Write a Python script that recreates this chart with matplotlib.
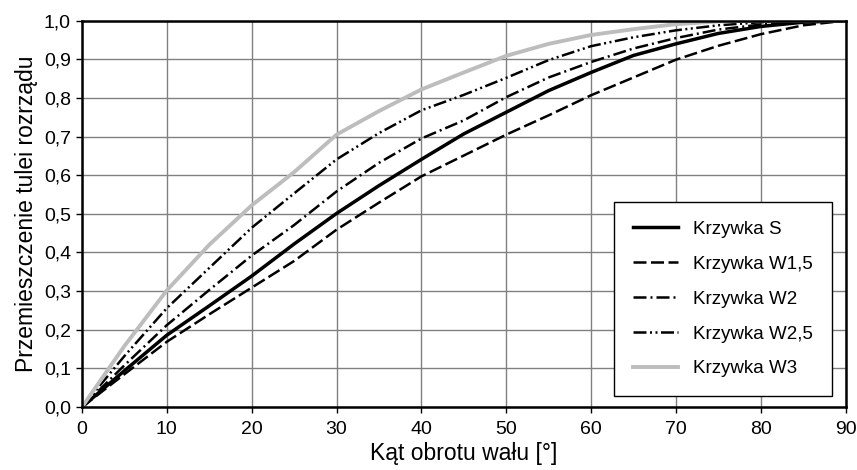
import matplotlib
matplotlib.use('Agg')
import matplotlib.pyplot as plt
from matplotlib.ticker import FuncFormatter

# kat obrotu walu [deg]
kat = [0, 5, 10, 15, 20, 25, 30, 35, 40, 45, 50, 55, 60, 65, 70, 75, 80, 85, 90]

krzywa_s = [0.0, 0.094, 0.186, 0.262, 0.339, 0.422, 0.501, 0.573, 0.641, 0.707, 0.763, 0.819, 0.866, 0.91, 0.94, 0.967, 0.985, 0.996, 1.0]
krzywa_w15 = [0.0, 0.085, 0.169, 0.24, 0.309, 0.378, 0.459, 0.529, 0.597, 0.651, 0.705, 0.755, 0.807, 0.853, 0.899, 0.935, 0.965, 0.988, 1.0]
krzywa_w2 = [0.0, 0.108, 0.212, 0.303, 0.392, 0.471, 0.558, 0.632, 0.695, 0.742, 0.802, 0.853, 0.893, 0.928, 0.955, 0.977, 0.99, 0.998, 1.0]
krzywa_w25 = [0.0, 0.132, 0.256, 0.36, 0.464, 0.553, 0.641, 0.709, 0.768, 0.808, 0.852, 0.898, 0.934, 0.957, 0.975, 0.988, 0.996, 1.0, 1.0]
krzywa_w3 = [0.0, 0.158, 0.302, 0.42, 0.522, 0.608, 0.705, 0.766, 0.822, 0.866, 0.909, 0.94, 0.963, 0.978, 0.991, 0.998, 1.0, 1.0, 1.0]

etykiety = ['Krzywka S', 'Krzywka W1,5', 'Krzywka W2', 'Krzywka W2,5', 'Krzywka W3']

plt.rcParams['font.family'] = ['Liberation Sans', 'DejaVu Sans']

fig = plt.figure(figsize=(8.57, 4.70), dpi=100)
ax = fig.add_axes([0.0957, 0.134, 0.891, 0.822])

ax.plot(kat, krzywa_s, color='black', lw=2.5, label=etykiety[0])
ax.plot(kat, krzywa_w15, color='black', lw=1.8, dashes=(5.2, 1.8), label=etykiety[1])
ax.plot(kat, krzywa_w2, color='black', lw=1.8, dashes=(5.2, 1.6, 0.8, 1.6), label=etykiety[2])
ax.plot(kat, krzywa_w25, color='black', lw=1.8, dashes=(5.2, 1.4, 0.8, 1.4, 0.8, 1.4), label=etykiety[3])
ax.plot(kat, krzywa_w3, color='#bdbdbd', lw=2.8, label=etykiety[4])

ax.set_xlim(0, 90)
ax.set_ylim(0, 1.0)
ax.set_xticks(range(0, 91, 10))
ax.set_yticks([i / 10 for i in range(11)])
ax.yaxis.set_major_formatter(FuncFormatter(lambda v, p: ('%.1f' % v).replace('.', ',')))
ax.grid(True, color='#808080', lw=1.0)
ax.set_axisbelow(True)
for s in ax.spines.values():
    s.set_linewidth(1.8)
ax.tick_params(direction='out', length=4, width=1, labelsize=14)
ax.tick_params(axis='x', pad=6)
ax.tick_params(axis='y', pad=4)

ax.set_xlabel('Kąt obrotu wału [°]', fontsize=16.5, labelpad=3)
ax.set_ylabel('Przemieszczenie tulei rozrządu', fontsize=16.5, labelpad=4)

leg = ax.legend(loc='lower right', bbox_to_anchor=(0.982, 0.028), fontsize=13.5,
                fancybox=False, edgecolor='black', framealpha=1, handlelength=2.4,
                labelspacing=0.95, borderpad=1.0, handletextpad=0.8, borderaxespad=0)
leg.get_frame().set_linewidth(1.0)

fig.savefig('out.png', dpi=100)
